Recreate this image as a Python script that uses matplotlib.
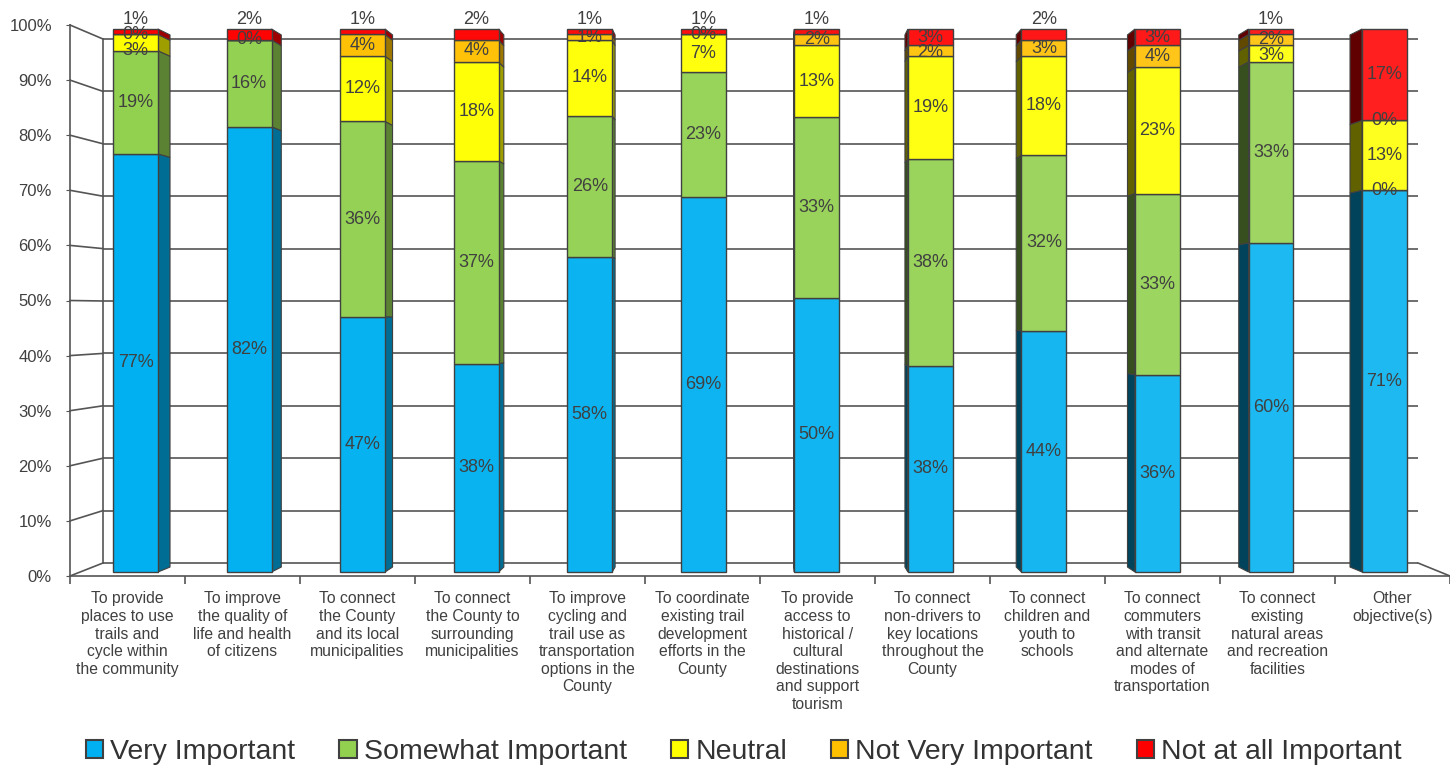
import numpy as np
import matplotlib
matplotlib.use('Agg')
import matplotlib.pyplot as plt
from matplotlib.patches import Patch, Polygon
from matplotlib.colors import to_rgb

plt.rcParams['font.family'] = ['Liberation Sans', 'DejaVu Sans']

categories = [
    'To provide\nplaces to use\ntrails and\ncycle within\nthe community',
    'To improve\nthe quality of\nlife and health\nof citizens',
    'To connect\nthe County\nand its local\nmunicipalities',
    'To connect\nthe County to\nsurrounding\nmunicipalities',
    'To improve\ncycling and\ntrail use as\ntransportation\noptions in the\nCounty',
    'To coordinate\nexisting trail\ndevelopment\nefforts in the\nCounty',
    'To provide\naccess to\nhistorical /\ncultural\ndestinations\nand support\ntourism',
    'To connect\nnon-drivers to\nkey locations\nthroughout the\nCounty',
    'To connect\nchildren and\nyouth to\nschools',
    'To connect\ncommuters\nwith transit\nand alternate\nmodes of\ntransportation',
    'To connect\nexisting\nnatural areas\nand recreation\nfacilities',
    'Other\nobjective(s)',
]
series = ['Very Important', 'Somewhat Important', 'Neutral',
          'Not Very Important', 'Not at all Important']
very_important = [77, 82, 47, 38, 58, 69, 50, 38, 44, 36, 60, 71]
somewhat_important = [19, 16, 36, 37, 26, 23, 33, 38, 32, 33, 33, 0]
neutral = [3, 0, 12, 18, 14, 7, 13, 19, 18, 23, 3, 13]
not_very_important = [0, np.nan, 4, 4, 1, 0, 2, 2, 3, 4, 2, 0]
not_at_all_important = [1, 2, 1, 2, 1, 1, 1, 3, 2, 3, 1, 17]
colors = ['#00B0F0', '#92D050', '#FFFF00', '#FFC000', '#FF0000']
levels = np.arange(0, 101, 10)

data = np.array([very_important, somewhat_important, neutral,
                 not_very_important, not_at_all_important], dtype=float)
vals = np.nan_to_num(data)
share = vals / vals.sum(axis=0)
bottoms = np.vstack([np.zeros(len(categories)), np.cumsum(share, axis=0)[:-1]])

# fake 3d geometry (pixel rows measured on the original)
W, H = 1450, 768
BAR0, BAR1 = 572, 29
unit = BAR0 - BAR1


def front(v):
    return (BAR0 - (576 - 551 * v)) / unit


def back(v):
    return (BAR0 - (563 - 524 * v)) / unit


fig = plt.figure(figsize=(W / 100, H / 100), dpi=100)
ylo, yhi = -0.012, 1.05
ax = fig.add_axes([70 / W, (H - (BAR0 - ylo * unit)) / H, 1380 / W, (yhi - ylo) * unit / H])
ax.set_xlim(-0.5, len(categories) - 0.5)
ax.set_ylim(ylo, yhi)

line_c = '#555555'
BX0, BX1 = -0.213, 11.222
lv = levels / 100
ax.hlines(back(lv), BX0, BX1, color=line_c, lw=1.2, zorder=1)
for v in lv:
    ax.plot([-0.5, BX0], [front(v), back(v)], color=line_c, lw=1.2, zorder=1, clip_on=False)
ax.plot([BX0, BX0], [back(0), back(1)], color=line_c, lw=1.2, zorder=1)
ax.plot([BX1, 11.5], [back(0), front(0)], color=line_c, lw=1.2, zorder=1, clip_on=False)

x = np.arange(len(categories))
bar_x = 0.07 + 0.9873 * x
bw = 0.39
VX, VY, DEPTH = 5.5, 0.455, 0.02
edge = '#404040'

for s in range(len(series)):
    base = np.array(to_rgb(colors[s]))
    for i in range(len(categories)):
        h = share[s, i]
        b = bottoms[s, i]
        lite = 0.12 * i / (len(categories) - 1)
        fc = base + (1 - base) * lite
        ax.bar(bar_x[i], h, bw, bottom=b, color=fc, edgecolor=edge, linewidth=1, zorder=4)
        if h > 0:
            right = bar_x[i] + bw / 2 < VX
            ex = bar_x[i] + bw / 2 if right else bar_x[i] - bw / 2
            t = b + h
            sx = ex + DEPTH * (VX - ex)
            pts = [(ex, b), (ex, t), (sx, t + DEPTH * (VY - t)), (sx, b + DEPTH * (VY - b))]
            shade = 0.62 if right else 0.38
            ax.add_patch(Polygon(pts, closed=True, fc=base * shade, ec=edge, lw=0.8, zorder=3))

# data labels, walked top-down so the small ones don't sit on each other
GAP = 0.028
for i in range(len(categories)):
    prev = None
    for s in range(len(series) - 1, -1, -1):
        if np.isnan(data[s, i]):
            continue
        y = bottoms[s, i] + share[s, i] / 2
        if s == len(series) - 1 and data[s, i] <= 2:
            y = 1.017
        if prev is not None:
            y = min(y, prev - GAP)
        prev = y
        ax.text(bar_x[i], y, f'{int(data[s, i])}%', ha='center', va='center',
                fontsize=13, color='#404040', zorder=6)

ax.spines['top'].set_visible(False)
ax.spines['right'].set_visible(False)
ax.spines['left'].set_bounds(front(0), front(1))
ax.spines['bottom'].set_position(('data', front(0)))
for sp in ('left', 'bottom'):
    ax.spines[sp].set_color(line_c)
    ax.spines[sp].set_linewidth(1.2)

ax.set_yticks(front(lv), [f'{v}%' for v in levels])
ax.tick_params(axis='y', length=3, pad=10, labelsize=12, colors=line_c, labelcolor='#404040')
ax.set_xticks(x, categories)
ax.set_xticks(np.arange(-0.5, len(categories)), minor=True)
ax.tick_params(axis='x', which='major', length=0, pad=11, labelsize=11.3, labelcolor='#404040')
ax.tick_params(axis='x', which='minor', length=6, width=1.2, color=line_c)
for lab in ax.get_xticklabels():
    lab.set_linespacing(1.22)

handles = [Patch(facecolor=c, edgecolor=edge, linewidth=1.5) for c in colors]
fig.legend(handles, series, loc='lower center', bbox_to_anchor=(0.513, -0.03), ncol=5,
           frameon=False, fontsize=20.5, handlelength=0.6, handleheight=0.6,
           handletextpad=0.25, columnspacing=1.55, labelcolor='#333333')

fig.savefig('out.png', dpi=100)
